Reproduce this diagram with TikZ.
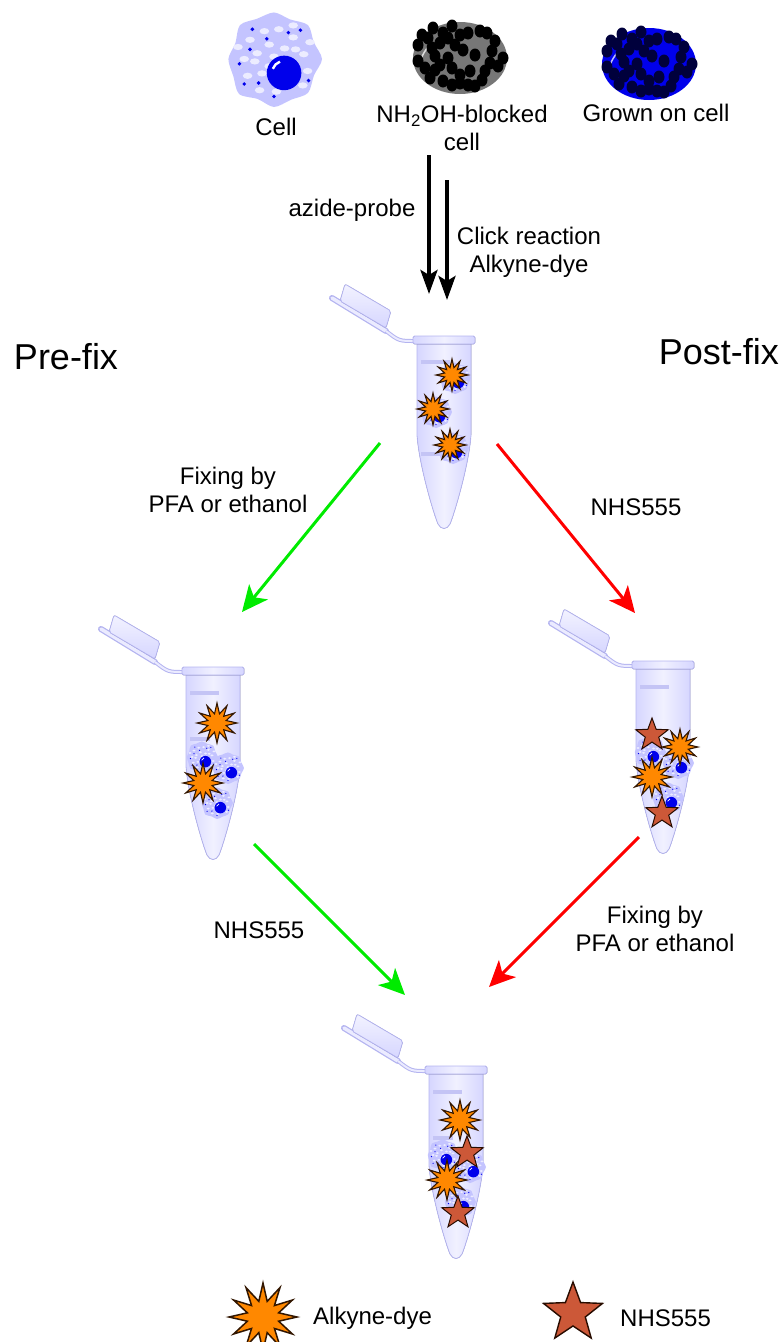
\documentclass[tikz,border=0pt]{standalone}
\usepackage{fontspec}
\setmainfont{Liberation Sans}
\usetikzlibrary{arrows.meta,shapes.geometric}

\definecolor{tubefill}{RGB}{214,214,255}
\definecolor{tubeline}{RGB}{180,180,240}
\definecolor{tubebar}{RGB}{196,196,245}
\definecolor{cellbody}{RGB}{196,196,255}
\definecolor{cellspot}{RGB}{236,236,255}
\definecolor{nucleus}{RGB}{0,0,235}
\definecolor{blockgray}{RGB}{119,119,119}
\definecolor{navy}{RGB}{0,0,60}
\definecolor{dyeorange}{RGB}{255,136,0}
\definecolor{dyeline}{RGB}{50,22,0}
\definecolor{nhsfill}{RGB}{204,88,56}
\definecolor{nhsline}{RGB}{40,12,0}
\definecolor{pregreen}{RGB}{0,235,0}
\definecolor{postred}{RGB}{255,0,0}

\tikzset{
  txt/.style={font=\fontsize{24}{28}\selectfont, align=center, inner sep=0pt},
  side/.style={font=\fontsize{36}{40}\selectfont, inner sep=0pt},
  dye/.style={star, star points=12, star point ratio=2.1, draw=dyeline, fill=dyeorange,
    inner sep=0pt, line width=1.1pt},
  nhs/.style={star, star points=5, star point ratio=2.4, draw=nhsline, fill=nhsfill,
    inner sep=0pt, line width=1pt},
  blackarrow/.style={line width=4pt, -{Stealth[length=24pt,width=17pt,inset=5pt]}},
  prearrow/.style={draw=pregreen, line width=3pt, -{Stealth[length=26pt,width=24pt,inset=7pt]}},
  postarrow/.style={draw=postred, line width=3pt, -{Stealth[length=26pt,width=24pt,inset=7pt]}},
  tubebody/.style={draw=tubeline, line width=0.8pt, left color=tubefill, right color=tubefill,
    middle color=tubefill!35!white},
}

% one cell: centre x, y and radius
\newcommand{\cellpic}[3]{%
  \begin{scope}[shift={(#1,#2)}, scale=#3]
    \fill[cellbody] plot[smooth cycle] coordinates {(0:1) (22:.9) (45:1) (67:.92) (90:1)
      (112:.9) (135:1.03) (157:.92) (180:.95) (202:.87) (225:1) (247:.91) (270:.97)
      (292:.89) (315:1) (337:.9)};
    \foreach \p in {(-.5,-.4),(-.2,-.58),(.1,-.62),(.4,-.45),(-.62,0),(-.35,-.12),(-.1,-.3),
      (.22,-.22),(.62,-.1),(-.55,.35),(-.25,.3),(.05,.68),(.6,.55),(.7,.25),(-.3,.65),(.4,-.7),
      (-.75,-.25),(-.4,.05),(.0,-.05),(.45,-.2),(-.1,.15),(.75,-.35)}
      \fill[cellspot] \p ellipse (.1 and .065);
    \foreach \p in {(-.72,.1),(-.45,-.62),(.55,-.6),(-.32,.5),(-.62,.52),(0,.78),(.72,.45),
      (-.15,-.42),(-.05,.45),(.3,-.55),(-.5,-.2)}
      \fill[nucleus] \p circle (.04);
    \fill[nucleus] (.21,.29) circle (.36);
    \draw[white, line width={#3*0.05pt}] (.21,.29) ++(200:.25) arc (200:250:.25);
  \end{scope}}

% round cell covered with blots: centre x, y, body and blot colours
\newcommand{\blotlist}{-27/-30, -38/-23, -42/-13, -42/3, -35/10, -30/20, -25/-2, -20/-15,
  -17/-25, -8/-32, 0/-23, 8/-25, 20/-27, 27/-25, 35/-17, 43/0, 32/-7, 30/5, 25/13, 22/22,
  10/13, 8/27, 0/17, -8/10, -17/23, -8/27, 0/25, -12/0, -20/7, 15/-3, 3/-8, -28/-10, -5/-13,
  -32/-20, -12/-20, 38/8, 15/28, -25/12}
\newcommand{\blotcell}[4]{%
  \begin{scope}[shift={(#1,#2)}]
    \fill[#3] (0,0) ellipse (47 and 36);
    \draw[white!75!#3, line width=1.5pt] (-36,12) .. controls (-40,0) .. (-30,-14);
    \foreach \dx/\dy in \blotlist
      \fill[#4] (\dx,\dy) ellipse (5.5 and 6.5);
  \end{scope}}

% tube: name, x and y of the rim centre
\newcommand{\tube}[3]{%
  \begin{scope}[shift={(#2,#3)}]
    \coordinate (#1) at (0,0);
    \draw[tubeline, line width=6pt, line cap=round] (-112,-42) -- (-58,-9);
    \draw[tubefill!50!white, line width=3.5pt, line cap=round] (-112,-42) -- (-58,-9);
    \filldraw[draw=tubeline, line width=0.8pt, top color=tubefill!30!white, bottom color=tubefill,
      rounded corners=2pt] (-99,-56) -- (-53,-29) -- (-58,-12) -- (-104,-39) -- cycle;
    \draw[tubeline, line width=4pt] (-58,-9) .. controls (-45,1) .. (-29,1);
    \draw[tubefill!50!white, line width=2pt] (-58,-9) .. controls (-45,1) .. (-29,1);
    \filldraw[tubebody] (-27,4) -- (-27,95) .. controls (-25,125) and (-10,175) .. (-6,184)
      .. controls (-3,190) and (3,190) .. (6,184) .. controls (10,175) and (25,125) .. (27,95)
      -- (27,4) -- cycle;
    \filldraw[tubebody, rounded corners=1.5pt] (-31,-4) rectangle (31,4);
    \foreach \y/\l in {22/6, 68/-3, 114/-4}
      \fill[tubebar] (-23,\y-2) rectangle (\l,\y+2);
  \end{scope}}

\begin{document}
\begin{tikzpicture}[x=1pt, y=-1pt]
  \useasboundingbox (0,0) rectangle (781,1342);

  \cellpic{274}{59}{48}
  \blotcell{460}{58}{blockgray}{black}
  \blotcell{649}{64}{nucleus}{navy}
  \node[txt] (cell) at (276,127) {Cell};
  \node[txt] (blocked) at (462,128) {NH\textsubscript{2}OH-blocked\\cell};
  \node[txt] (grown) at (656,113) {Grown on cell};

  \node[side] (pre) at (66,357) {Pre-fix};
  \node[side, anchor=east] (post) at (779,352) {Post-fix};

  \tube{start}{444}{340}
  \foreach \x/\y in {455/378, 436/412, 453/448} {
    \cellpic{\x}{\y}{16}
    \node[dye, minimum size=32pt] at (\x-3,\y-3) {};
  }

  \tube{prefix}{213}{671}
  \foreach \x/\y in {202/757, 228/768, 217/803} \cellpic{\x}{\y}{16};
  \node[dye, minimum size=40pt] (d1) at (217,723) {};
  \node[dye, minimum size=40pt] (d2) at (203,783) {};

  \tube{postfix}{663}{665}
  \foreach \x/\y in {650/752, 678/763, 668/798} \cellpic{\x}{\y}{16};
  \node[nhs, minimum size=34pt] (s1) at (652,735) {};
  \node[dye, minimum size=36pt] (d3) at (680,747) {};
  \node[dye, minimum size=40pt] (d4) at (652,777) {};
  \node[nhs, minimum size=34pt] (s2) at (662,813) {};

  \tube{both}{456}{1070}
  \foreach \x/\y in {443/1155, 470/1167, 460/1202} \cellpic{\x}{\y}{16};
  \node[dye, minimum size=40pt] (d5) at (460,1120) {};
  \node[nhs, minimum size=34pt] (s3) at (467,1153) {};
  \node[dye, minimum size=40pt] (d6) at (447,1180) {};
  \node[nhs, minimum size=34pt] (s4) at (458,1213) {};

  \coordinate (azA) at (429,155);  \coordinate (azB) at (429,294);
  \coordinate (clA) at (447,180);  \coordinate (clB) at (447,300);
  \coordinate (fixA) at (380,443); \coordinate (fixB) at (242,612);
  \coordinate (nhsA) at (497,444); \coordinate (nhsB) at (635,613);
  \coordinate (nhsC) at (254,844); \coordinate (nhsD) at (405,995);
  \coordinate (fixC) at (639,837); \coordinate (fixD) at (489,987);

  \draw[blackarrow] (azA) -- (azB);
  \draw[blackarrow] (clA) -- (clB);
  \draw[prearrow] (fixA) -- (fixB);
  \draw[postarrow] (nhsA) -- (nhsB);
  \draw[prearrow] (nhsC) -- (nhsD);
  \draw[postarrow] (fixC) -- (fixD);

  \node[txt] (azide) at (352,210) {azide-probe};
  \node[txt] (click) at (529,252) {Click reaction\\Alkyne-dye};
  \node[txt] (fix1) at (228,490) {Fixing by\\PFA or ethanol};
  \node[txt] (nhs1) at (636,507) {NHS555};
  \node[txt] (nhs2) at (259,930) {NHS555};
  \node[txt] (fix2) at (655,929) {Fixing by\\PFA or ethanol};

  \node[dye, minimum size=68pt, line width=1.5pt] (keydye) at (263,1317) {};
  \node[nhs, minimum size=62pt, line width=1.4pt] (keynhs) at (573,1313) {};
  \node[txt, anchor=west] at (313,1318) {Alkyne-dye};
  \node[txt, anchor=west] at (620,1318) {NHS555};
\end{tikzpicture}
\end{document}
